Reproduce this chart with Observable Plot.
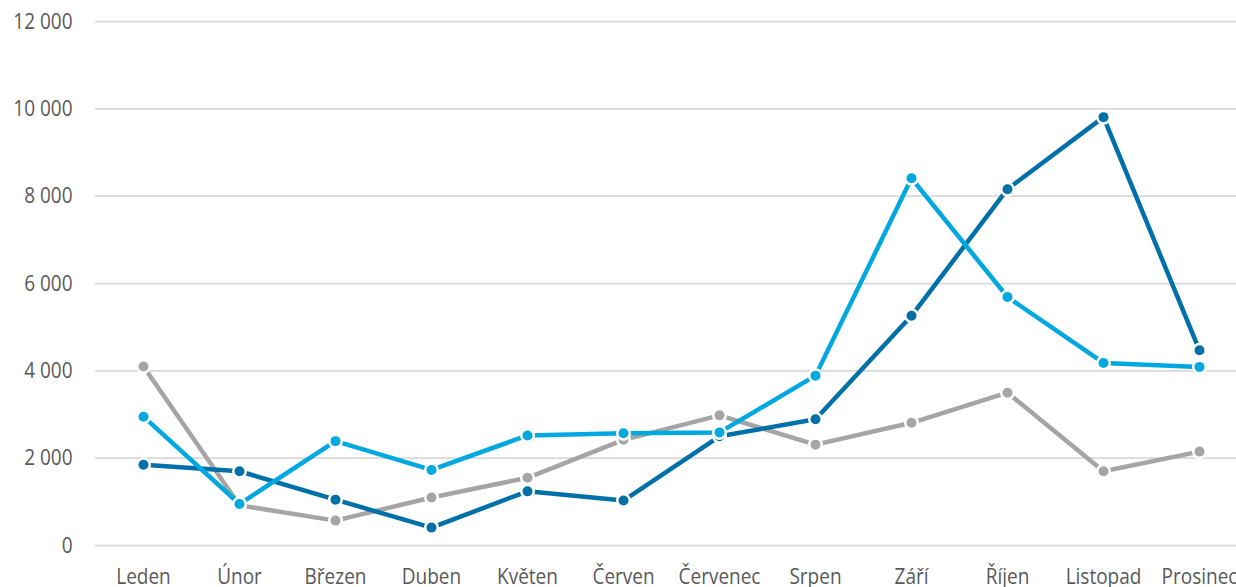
<!DOCTYPE html>
<html>
<head>
<meta charset="utf-8">
<script src="https://cdn.jsdelivr.net/npm/d3@7"></script>
<script src="https://cdn.jsdelivr.net/npm/@observablehq/plot@0.6"></script>
<style>
  html, body { margin: 0; padding: 0; background: #ffffff; overflow: hidden; }
  #chart svg { display: block; }
</style>
</head>
<body>
<div id="chart"></div>
<script>
const months = ["Leden", "Únor", "Březen", "Duben", "Květen", "Červen", "Červenec", "Srpen", "Září", "Říjen", "Listopad", "Prosinec"];
const seriesGray  = [4100, 920, 570, 1100, 1550, 2420, 2980, 2310, 2810, 3500, 1700, 2150];
const seriesDark  = [1850, 1700, 1050, 410, 1240, 1030, 2500, 2890, 5260, 8160, 9810, 4470];
const seriesLight = [2950, 950, 2390, 1730, 2520, 2570, 2590, 3890, 8410, 5690, 4180, 4090];
const yTicks = [0, 2000, 4000, 6000, 8000, 10000, 12000];

const seriesNames = ["gray", "dark", "light"];
const seriesColors = ["#A5A5A5", "#0070A8", "#00A8E0"];
const seriesValues = [seriesGray, seriesDark, seriesLight];

const rows = [];
seriesNames.forEach((s, i) => {
  months.forEach((m, j) => rows.push({series: s, month: m, value: seriesValues[i][j]}));
});

const czLocale = d3.formatLocale({decimal: ",", thousands: " ", grouping: [3], currency: ["", " Kč"]});
const fmt = czLocale.format(",d");

const marks = [
  Plot.ruleY(yTicks, {stroke: "#d9d9d9", strokeWidth: 1.75}),
  Plot.axisY({ticks: yTicks, tickFormat: fmt, tickSize: 0, tickPadding: 23, label: null, fill: "#595959", fontSize: 19}),
  Plot.axisX({tickSize: 0, tickPadding: 23, label: null, fill: "#595959", fontSize: 19})
];
seriesNames.forEach((s, i) => {
  const d = rows.filter(r => r.series === s);
  marks.push(Plot.line(d, {x: "month", y: "value", stroke: seriesColors[i], strokeWidth: 4.5}));
  marks.push(Plot.dot(d, {x: "month", y: "value", fill: seriesColors[i], stroke: "#ffffff", strokeWidth: 2.5, r: 6.25}));
});

const chart = Plot.plot({
  width: 1236,
  height: 587,
  marginLeft: 95,
  marginRight: 0,
  marginTop: 21,
  marginBottom: 42,
  style: {fontFamily: "'Open Sans', sans-serif", fontSize: "19px", background: "#ffffff", overflow: "hidden"},
  x: {type: "point", domain: months, range: [143, 1199], padding: 0, label: null},
  y: {domain: [0, 12000], label: null},
  marks
});

// the reference's text is drawn slightly stretched vertically
const sy = 1.17;
const isNum = v => v != null && /^-?[\d.]+$/.test(v.trim());
chart.querySelectorAll("text").forEach(t => {
  const xa = t.getAttribute("x"), ya = t.getAttribute("y");
  let tr = t.getAttribute("transform") || "";
  let tx = 0, ty = 0;
  if (isNum(xa)) { tx = +xa; t.removeAttribute("x"); }
  if (isNum(ya)) { ty = +ya; t.removeAttribute("y"); }
  t.setAttribute("transform", `${tr} translate(${tx},${ty}) scale(1,${sy})`);
});

document.getElementById("chart").appendChild(chart);
</script>
</body>
</html>
